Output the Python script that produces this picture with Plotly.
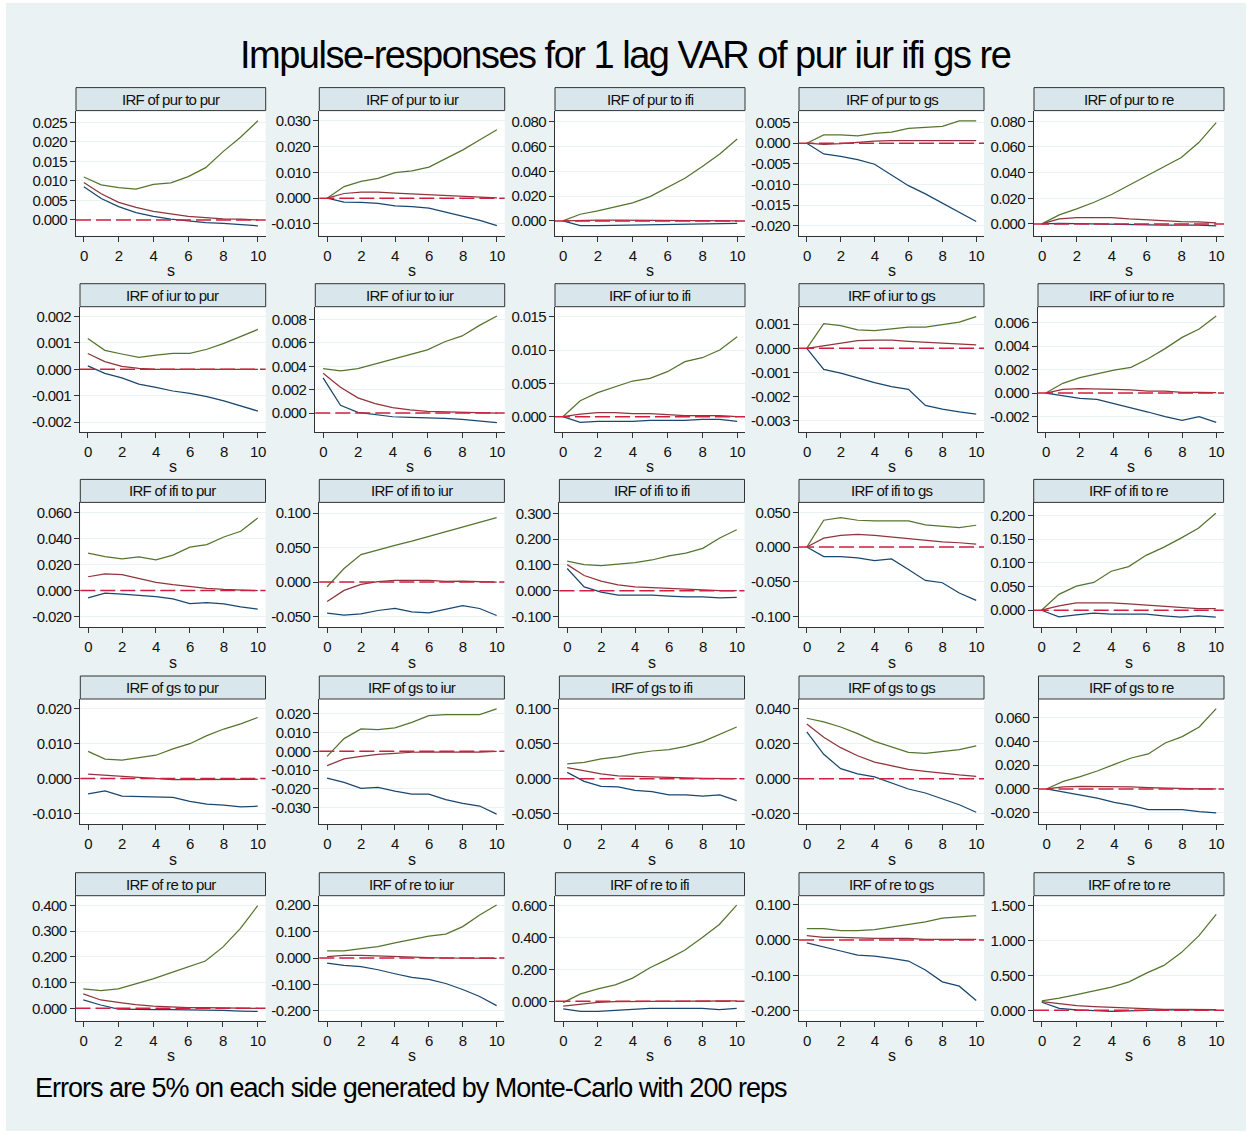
import plotly.graph_objects as go

# ---------------- data ----------------
VARS = ["pur", "iur", "ifi", "gs", "re"]
steps = list(range(11))
x_ticks = [0, 2, 4, 6, 8, 10]

# row 1: impulse pur
pur_pur_lo = [0.0085, 0.0055, 0.0034, 0.0019, 0.0009, 0.0002, -0.0002, -0.0007, -0.0009, -0.0012, -0.0015]
pur_pur_irf = [0.0096, 0.0067, 0.0045, 0.0032, 0.0022, 0.0015, 0.0009, 0.0006, 0.0003, 0.0002, 0.0000]
pur_pur_hi = [0.0110, 0.0090, 0.0083, 0.0079, 0.0091, 0.0095, 0.0111, 0.0134, 0.0175, 0.0212, 0.0254]
ticks_pur_pur = [0.000, 0.005, 0.010, 0.015, 0.020, 0.025]

pur_iur_lo = [0, -0.0015, -0.0016, -0.0020, -0.0030, -0.0033, -0.0039, -0.0054, -0.0071, -0.0086, -0.0106]
pur_iur_irf = [0, 0.0018, 0.0023, 0.0023, 0.0019, 0.0016, 0.0012, 0.0009, 0.0006, 0.0003, 0.0001]
pur_iur_hi = [0, 0.0045, 0.0065, 0.0077, 0.0099, 0.0106, 0.0120, 0.0155, 0.0187, 0.0226, 0.0265]
ticks_pur_iur = [-0.010, 0.000, 0.010, 0.020, 0.030]

pur_ifi_lo = [0, -0.0038, -0.0038, -0.0035, -0.0033, -0.0030, -0.0027, -0.0026, -0.0022, -0.0021, -0.0019]
pur_ifi_irf = [0, 0.0006, 0.0007, 0.0007, 0.0006, 0.0005, 0.0004, 0.0003, 0.0002, 0.0002, 0.0001]
pur_ifi_hi = [0, 0.0054, 0.0081, 0.0110, 0.0145, 0.0196, 0.0271, 0.0344, 0.0438, 0.0540, 0.0660]
ticks_pur_ifi = [0.000, 0.020, 0.040, 0.060, 0.080]

pur_gs_lo = [0, -0.0026, -0.0032, -0.0040, -0.0051, -0.0077, -0.0103, -0.0123, -0.0146, -0.0168, -0.0190]
pur_gs_irf = [0, -0.0003, -0.0001, 0.0002, 0.0005, 0.0006, 0.0006, 0.0006, 0.0006, 0.0006, 0.0006]
pur_gs_hi = [0, 0.0020, 0.0020, 0.0018, 0.0024, 0.0027, 0.0036, 0.0039, 0.0041, 0.0054, 0.0054]
ticks_pur_gs = [-0.020, -0.015, -0.010, -0.005, 0.000, 0.005]

pur_re_lo = [0, 0.0005, 0.0003, 0.0000, -0.0003, -0.0008, -0.0010, -0.0010, -0.0010, -0.0010, -0.0016]
pur_re_irf = [0, 0.0039, 0.0049, 0.0049, 0.0049, 0.0039, 0.0031, 0.0026, 0.0018, 0.0016, 0.0008]
pur_re_hi = [0, 0.0070, 0.0117, 0.0169, 0.0229, 0.0301, 0.0369, 0.0442, 0.0517, 0.0634, 0.0790]
ticks_pur_re = [0.000, 0.020, 0.040, 0.060, 0.080]

# row 2: impulse iur
iur_pur_lo = [0.00013, -0.00015, -0.00032, -0.00056, -0.00068, -0.00082, -0.00091, -0.00103, -0.00119, -0.00139, -0.00158]
iur_pur_irf = [0.00060, 0.00029, 0.00011, 0.00004, 0.0, 0.0, -0.00001, -0.00002, -0.00002, -0.00001, 0.0]
iur_pur_hi = [0.00117, 0.00072, 0.00058, 0.00045, 0.00054, 0.00060, 0.00060, 0.00076, 0.00098, 0.00124, 0.00151]
ticks_iur_pur = [-0.002, -0.001, 0.000, 0.001, 0.002]

iur_iur_lo = [0.0030, 0.00066, 0.00006, -0.00014, -0.00032, -0.00037, -0.00040, -0.00046, -0.00054, -0.00066, -0.00083]
iur_iur_irf = [0.0034, 0.0022, 0.0013, 0.0008, 0.00046, 0.00026, 0.00014, 0.00010, 0.00006, 0.00003, 0.0]
iur_iur_hi = [0.0038, 0.0036, 0.0038, 0.0042, 0.0046, 0.0050, 0.0054, 0.0061, 0.0066, 0.0075, 0.0083]
ticks_iur_iur = [0.000, 0.002, 0.004, 0.006, 0.008]

iur_ifi_lo = [0, -0.00085, -0.0007, -0.0007, -0.0007, -0.00055, -0.00055, -0.00055, -0.0004, -0.0004, -0.0007]
iur_ifi_irf = [0, 0.0004, 0.0006, 0.0006, 0.00045, 0.00045, 0.0003, 0.00015, 0.00015, 0.00015, 0.0]
iur_ifi_hi = [0, 0.0024, 0.0036, 0.0045, 0.00535, 0.00575, 0.00675, 0.00825, 0.00885, 0.0100, 0.0120]
ticks_iur_ifi = [0.000, 0.005, 0.010, 0.015]

iur_gs_lo = [0, -0.00087, -0.00103, -0.00124, -0.00142, -0.00159, -0.00170, -0.00236, -0.00252, -0.00263, -0.00272]
iur_gs_irf = [0, 0.0001, 0.00023, 0.00032, 0.00034, 0.00034, 0.00029, 0.00026, 0.00022, 0.00018, 0.00014]
iur_gs_hi = [0, 0.00102, 0.00094, 0.00076, 0.00073, 0.00081, 0.00088, 0.00088, 0.00097, 0.00108, 0.00131]
ticks_iur_gs = [-0.003, -0.002, -0.001, 0.000, 0.001]

iur_re_lo = [0, -0.00026, -0.00046, -0.00054, -0.00088, -0.00123, -0.00162, -0.00202, -0.00233, -0.00202, -0.00250]
iur_re_irf = [0, 0.00031, 0.00037, 0.00031, 0.00031, 0.00026, 0.00017, 0.00017, 0.00006, 0.00006, 0.00003]
iur_re_hi = [0, 0.00083, 0.00131, 0.00165, 0.00196, 0.00219, 0.00293, 0.00379, 0.00475, 0.00547, 0.00658]
ticks_iur_re = [-0.002, 0.000, 0.002, 0.004, 0.006]

# row 3: impulse ifi
ifi_pur_lo = [-0.0056, -0.0020, -0.0028, -0.0036, -0.0046, -0.0064, -0.0100, -0.0092, -0.0102, -0.0125, -0.0143]
ifi_pur_irf = [0.0107, 0.0130, 0.0123, 0.0095, 0.0064, 0.0046, 0.0031, 0.0018, 0.0010, 0.0003, 0.0]
ifi_pur_hi = [0.0289, 0.0263, 0.0245, 0.0261, 0.0238, 0.0274, 0.0335, 0.0355, 0.0414, 0.0458, 0.0560]
ticks_ifi_pur = [-0.020, 0.000, 0.020, 0.040, 0.060]

ifi_iur_lo = [-0.0450, -0.0479, -0.0460, -0.0412, -0.0383, -0.0431, -0.0446, -0.0388, -0.0340, -0.0383, -0.0484]
ifi_iur_irf = [-0.0283, -0.0120, -0.0034, 0.0005, 0.0024, 0.0024, 0.0024, 0.0010, 0.0014, 0.0005, 0.0]
ifi_iur_hi = [-0.0067, 0.0197, 0.0398, 0.0470, 0.0532, 0.0594, 0.0662, 0.0738, 0.0805, 0.0863, 0.0935]
ticks_ifi_iur = [-0.050, 0.000, 0.050, 0.100]

ifi_ifi_lo = [0.086, 0.015, -0.005, -0.017, -0.017, -0.017, -0.021, -0.024, -0.024, -0.028, -0.026]
ifi_ifi_irf = [0.101, 0.059, 0.037, 0.023, 0.015, 0.012, 0.008, 0.004, 0.003, 0.000, 0.000]
ifi_ifi_hi = [0.115, 0.101, 0.097, 0.103, 0.109, 0.119, 0.135, 0.146, 0.164, 0.204, 0.236]
ticks_ifi_ifi = [-0.100, 0.000, 0.100, 0.200, 0.300]

ifi_gs_lo = [0, -0.0138, -0.0138, -0.0157, -0.0195, -0.0171, -0.0324, -0.0481, -0.0514, -0.0662, -0.0767]
ifi_gs_irf = [0, 0.0129, 0.0167, 0.0181, 0.0167, 0.0143, 0.0119, 0.0100, 0.0076, 0.0062, 0.0043]
ifi_gs_hi = [0, 0.0386, 0.0424, 0.0386, 0.0376, 0.0376, 0.0376, 0.0319, 0.0305, 0.0281, 0.0314]
ticks_ifi_gs = [-0.100, -0.050, 0.000, 0.050]

ifi_re_lo = [0, -0.0139, -0.0098, -0.0063, -0.0084, -0.0084, -0.0084, -0.0118, -0.0146, -0.0118, -0.0146]
ifi_re_irf = [0, 0.0090, 0.0153, 0.0153, 0.0153, 0.0132, 0.0111, 0.0077, 0.0056, 0.0035, 0.0035]
ifi_re_hi = [0, 0.0334, 0.0509, 0.0585, 0.0822, 0.0920, 0.1157, 0.1324, 0.1520, 0.1728, 0.2042]
ticks_ifi_re = [0.000, 0.050, 0.100, 0.150, 0.200]

# row 4: impulse gs
gs_pur_lo = [-0.0044, -0.0035, -0.0050, -0.0051, -0.0051, -0.0054, -0.0065, -0.0073, -0.0076, -0.0081, -0.0079]
gs_pur_irf = [0.0013, 0.0010, 0.0006, 0.0003, 0.0, -0.0003, -0.0003, -0.0003, -0.0003, -0.0003, -0.0002]
gs_pur_hi = [0.0078, 0.0056, 0.0053, 0.0059, 0.0067, 0.0085, 0.0100, 0.0123, 0.0142, 0.0157, 0.0175]
ticks_gs_pur = [-0.010, 0.000, 0.010, 0.020]

gs_iur_lo = [-0.0143, -0.0166, -0.0198, -0.0193, -0.0213, -0.0229, -0.0229, -0.0259, -0.0279, -0.0293, -0.0336]
gs_iur_irf = [-0.0077, -0.0041, -0.0027, -0.0016, -0.0011, -0.0005, -0.0004, -0.0004, -0.0005, -0.0004, 0.0]
gs_iur_hi = [-0.0027, 0.0068, 0.0120, 0.0116, 0.0125, 0.0155, 0.0191, 0.0196, 0.0196, 0.0196, 0.0227]
ticks_gs_iur = [-0.030, -0.020, -0.010, 0.000, 0.010, 0.020]

gs_ifi_lo = [0.0090, -0.0038, -0.0110, -0.0119, -0.0167, -0.0186, -0.0233, -0.0233, -0.0248, -0.0233, -0.0314]
gs_ifi_irf = [0.0157, 0.0110, 0.0067, 0.0038, 0.0029, 0.0024, 0.0010, 0.0010, 0.0005, 0.0, 0.0]
gs_ifi_hi = [0.0210, 0.0233, 0.0281, 0.0310, 0.0362, 0.0395, 0.0414, 0.0462, 0.0529, 0.0638, 0.0738]
ticks_gs_ifi = [-0.050, 0.000, 0.050, 0.100]

gs_gs_lo = [0.0267, 0.0139, 0.0057, 0.0027, 0.0010, -0.0025, -0.0059, -0.0082, -0.0116, -0.0149, -0.0192]
gs_gs_irf = [0.0312, 0.0236, 0.0177, 0.0131, 0.0095, 0.0074, 0.0053, 0.0042, 0.0030, 0.0021, 0.0013]
gs_gs_hi = [0.0345, 0.0324, 0.0295, 0.0257, 0.0213, 0.0181, 0.0150, 0.0145, 0.0154, 0.0166, 0.0187]
ticks_gs_gs = [-0.020, 0.000, 0.020, 0.040]

gs_re_lo = [0, -0.0025, -0.0056, -0.0076, -0.0112, -0.0137, -0.0173, -0.0173, -0.0173, -0.0190, -0.0201]
gs_re_irf = [0, 0.0017, 0.0022, 0.0022, 0.0022, 0.0017, 0.0011, 0.0006, 0.0, 0.0, 0.0]
gs_re_hi = [0, 0.0064, 0.0103, 0.0151, 0.0207, 0.0260, 0.0294, 0.0386, 0.0439, 0.0520, 0.0674]
ticks_gs_re = [-0.020, 0.000, 0.020, 0.040, 0.060]

# row 5: impulse re
re_pur_lo = [0.0326, 0.0130, -0.0026, -0.0052, -0.0052, -0.0052, -0.0052, -0.0052, -0.0078, -0.0104, -0.0117]
re_pur_irf = [0.056, 0.0326, 0.0235, 0.0143, 0.009, 0.005, 0.0026, 0.0026, 0.0013, 0.0013, 0.0]
re_pur_hi = [0.0756, 0.069, 0.0756, 0.0938, 0.1147, 0.138, 0.160, 0.184, 0.238, 0.310, 0.399]
ticks_re_pur = [0.000, 0.100, 0.200, 0.300, 0.400]

re_iur_lo = [-0.019, -0.028, -0.033, -0.0445, -0.0597, -0.0737, -0.0813, -0.0965, -0.1194, -0.146, -0.1803]
re_iur_irf = [0.0051, 0.0102, 0.0102, 0.0076, 0.0038, 0.0025, 0.0013, 0.0, -0.0013, -0.0013, -0.0013]
re_iur_hi = [0.0267, 0.0267, 0.0356, 0.0432, 0.0571, 0.0711, 0.0825, 0.0902, 0.119, 0.163, 0.201]
ticks_re_iur = [-0.200, -0.100, 0.000, 0.100, 0.200]

re_ifi_lo = [-0.048, -0.063, -0.063, -0.057, -0.050, -0.044, -0.044, -0.044, -0.044, -0.052, -0.044]
re_ifi_irf = [-0.031, -0.0168, -0.0063, -0.002, -0.002, 0.002, 0.002, 0.002, 0.002, 0.002, 0.002]
re_ifi_hi = [-0.0084, 0.046, 0.078, 0.103, 0.145, 0.210, 0.262, 0.319, 0.397, 0.481, 0.602]
ticks_re_ifi = [0.000, 0.200, 0.400, 0.600]

re_gs_lo = [-0.0085, -0.0208, -0.0312, -0.0426, -0.0454, -0.052, -0.0596, -0.085, -0.1182, -0.1305, -0.171]
re_gs_irf = [0.0123, 0.0076, 0.0076, 0.0057, 0.0047, 0.0047, 0.0047, 0.0019, 0.0019, 0.0019, 0.0019]
re_gs_hi = [0.0322, 0.0322, 0.0265, 0.0265, 0.0293, 0.036, 0.0435, 0.051, 0.0615, 0.0662, 0.069]
ticks_re_gs = [-0.200, -0.100, 0.000, 0.100]

re_re_lo = [0.115, 0.029, 0.005, -0.005, -0.014, -0.010, 0.0, 0.005, 0.005, 0.005, 0.005]
re_re_irf = [0.125, 0.091, 0.067, 0.053, 0.043, 0.034, 0.024, 0.014, 0.014, 0.010, 0.010]
re_re_hi = [0.134, 0.173, 0.225, 0.278, 0.331, 0.407, 0.532, 0.642, 0.825, 1.064, 1.371]
ticks_re_re = [0.000, 0.500, 1.000, 1.500]

TITLE = "Impulse-responses for 1 lag VAR of pur iur ifi gs re"
NOTE = "Errors are 5% on each side generated by Monte-Carlo with 200 reps"

# ---------------- layout geometry (pixels) ----------------
W, H = 1252, 1134
PLOT_TOP = [110.6, 306.7, 502.4, 699.0, 895.7]
PLOT_H = 125.0
STRIP_H = 23.0
COL_EXT = [
    [(76, 265.7), (319.3, 504.7), (555, 745), (799, 984), (1034, 1224)],
    [(80, 265.7), (315.3, 504.7), (555, 745), (799, 984), (1038, 1224)],
    [(80.3, 265.5), (319.3, 504.4), (559.4, 744.5), (799, 984), (1033.7, 1223.6)],
    [(80.3, 265.5), (319.3, 504.4), (559.4, 744.5), (799, 984), (1038.5, 1224)],
    [(75.5, 265.5), (319.3, 504.4), (555.4, 744.5), (799, 984), (1034, 1224)],
]
Y_RANGE = [
    [(-0.004, 0.028), (-0.0145, 0.0339), (-0.0118, 0.0889), (-0.0224, 0.0079), (-0.0091, 0.0883)],
    [(-0.00236, 0.00237), (-0.0016, 0.0091), (-0.00225, 0.0165), (-0.00345, 0.00172), (-0.0033, 0.00737)],
    [(-0.0284, 0.0681), (-0.0657, 0.1155), (-0.142, 0.342), (-0.1157, 0.0643), (-0.0362, 0.2272)],
    [(-0.0130, 0.0228), (-0.0389, 0.028), (-0.0648, 0.1138), (-0.0259, 0.0455), (-0.0294, 0.0755)],
    [(-0.048, 0.438), (-0.2375, 0.236), (-0.1217, 0.661), (-0.228, 0.125), (-0.149, 1.639)],
]

FONT = "Liberation Sans, Arial, sans-serif"
C_LO, C_IRF, C_HI = "#1A476F", "#90353B", "#55752F"
C_ZERO = "#D0203F"
AX = "#333333"
BG = "#EAF2F3"


def px_x(v):
    return v / W


def px_y(v):
    return 1 - v / H


def narrow(text, ls):
    # tighten letter spacing to mimic the condensed face of the original
    return f'<span style="letter-spacing:{ls}px">{text}</span>'


fig = go.Figure()
shapes, annots = [], []
G = globals()

k = 0
for i, imp in enumerate(VARS):
    for j, resp in enumerate(VARS):
        k += 1
        lo = G[f"{imp}_{resp}_lo"]
        irf = G[f"{imp}_{resp}_irf"]
        hi = G[f"{imp}_{resp}_hi"]
        yt = G[f"ticks_{imp}_{resp}"]
        sfx = "" if k == 1 else str(k)
        xa, ya = "x" + sfx, "y" + sfx
        for ser, col in ((lo, C_LO), (hi, C_HI), (irf, C_IRF)):
            fig.add_trace(go.Scatter(x=steps, y=ser, mode="lines", xaxis=xa, yaxis=ya,
                                     line=dict(color=col, width=1.25), hoverinfo="skip"))
        L, R = COL_EXT[i][j]
        top = PLOT_TOP[i]
        bot = top + PLOT_H
        mpx = 7.8
        unit = (R - L - 2 * mpx) / 10.0
        xr = [-mpx / unit, 10 + mpx / unit]
        fig.layout["xaxis" + sfx] = dict(
            domain=[px_x(L), px_x(R)], anchor=ya, range=xr, tickvals=x_ticks,
            ticktext=[narrow(str(t), -0.5) for t in x_ticks], ticks="outside", ticklen=5,
            tickcolor=AX, showline=True, linecolor=AX, linewidth=1, showgrid=False,
            zeroline=False, tickfont=dict(family=FONT, size=15, color="#111"),
            ticklabelstandoff=1)
        fig.layout["yaxis" + sfx] = dict(
            domain=[px_y(bot), px_y(top)], anchor=xa, range=list(Y_RANGE[i][j]),
            tickvals=yt, ticktext=[narrow(f"{v:.3f}", -0.6) for v in yt], ticks="outside",
            ticklen=5, tickcolor=AX, showline=True, linecolor=AX, linewidth=1,
            showgrid=True, gridcolor=BG, gridwidth=1, zeroline=False,
            tickfont=dict(family=FONT, size=15, color="#111"), ticklabelstandoff=0)
        # zero reference line
        shapes.append(dict(type="line", xref=f"{xa} domain", yref=ya, x0=0, x1=1, y0=0, y1=0,
                           line=dict(color=C_ZERO, width=1.5, dash="15px,5px"), layer="above"))
        # strip header
        shapes.append(dict(type="rect", xref="paper", yref="paper", x0=px_x(L), x1=px_x(R),
                           y0=px_y(top), y1=px_y(top - STRIP_H), fillcolor="#D9E6EB",
                           line=dict(color=AX, width=1), layer="above"))
        annots.append(dict(text=narrow(f"IRF of {imp} to {resp}", -0.7), xref="paper",
                           yref="paper", x=px_x((L + R) / 2), y=px_y(top - STRIP_H / 2),
                           showarrow=False, xanchor="center", yanchor="middle",
                           font=dict(family=FONT, size=15, color="#111")))
        annots.append(dict(text="s", xref="paper", yref="paper", x=px_x((L + R) / 2),
                           y=px_y(bot + 35), showarrow=False, xanchor="center",
                           yanchor="middle", font=dict(family=FONT, size=16, color="#111")))

annots.append(dict(text=narrow(TITLE, -1.5), xref="paper", yref="paper", x=px_x(625),
                   y=px_y(55), showarrow=False, xanchor="center", yanchor="middle",
                   font=dict(family=FONT, size=38, color="#000")))
annots.append(dict(text=narrow(NOTE, -1.0), xref="paper", yref="paper", x=px_x(33),
                   y=px_y(1088), showarrow=False, xanchor="left", yanchor="middle",
                   font=dict(family=FONT, size=27, color="#000")))

# thin white outer border
for (x0, x1, y0, y1) in ((0, 6, 0, H), (W - 6, W, 0, H), (0, W, 0, 3), (0, W, H - 3, H)):
    shapes.append(dict(type="rect", xref="paper", yref="paper", x0=px_x(x0), x1=px_x(x1),
                       y0=px_y(y1), y1=px_y(y0), fillcolor="white", line=dict(width=0),
                       layer="above"))

fig.update_layout(width=W, height=H, margin=dict(l=0, r=0, t=0, b=0),
                  paper_bgcolor=BG, plot_bgcolor="white", showlegend=False,
                  shapes=shapes, annotations=annots)
fig.write_html("out.html", config={"displayModeBar": False},
               post_script="document.body.style.margin='0';")
